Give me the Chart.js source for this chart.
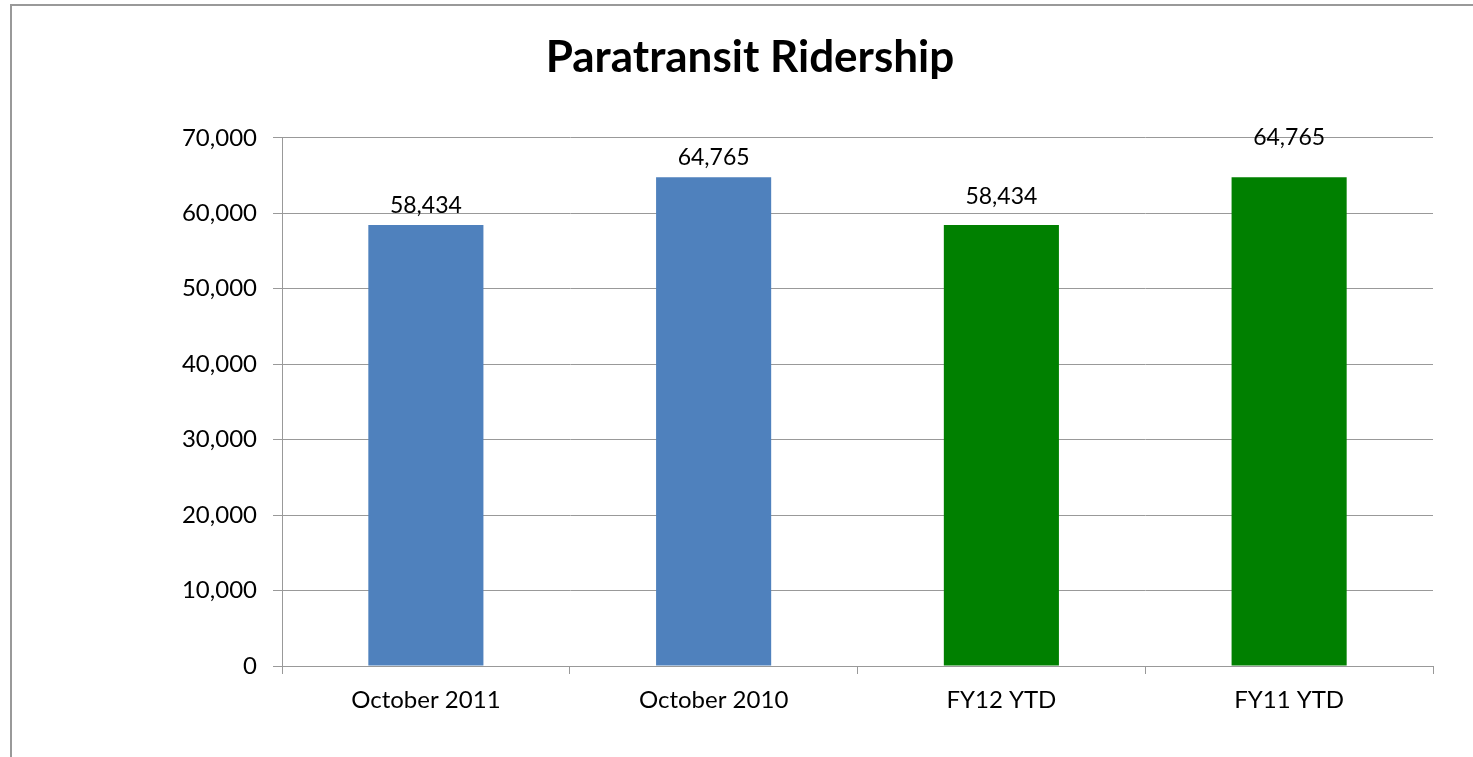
<!DOCTYPE html>
<html>
<head>
<meta charset="utf-8">
<title>Paratransit Ridership</title>
<script src="https://cdn.jsdelivr.net/npm/chart.js@4/dist/chart.umd.min.js"></script>
<style>
  html, body { margin: 0; padding: 0; background: #fff; }
  .wrap { position: relative; width: 1473px; height: 757px; }
  .frame {
    position: absolute; left: 10px; top: 4px; right: -10px; bottom: -10px;
    border-top: 2px solid #999; border-left: 2px solid #999;
    pointer-events: none;
  }
</style>
</head>
<body>
<div class="wrap">
  <canvas id="ridershipChart" width="1473" height="757"></canvas>
  <div class="frame"></div>
</div>
<script>
// Chart data
const categories = ['October 2011', 'October 2010', 'FY12 YTD', 'FY11 YTD'];
const ridership  = [58434, 64765, 58434, 64765];
const barColors  = ['#4F81BD', '#4F81BD', '#008000', '#008000'];
const yTicks     = [0, 10000, 20000, 30000, 40000, 50000, 60000, 70000];

const FONT = 'Lato, "Open Sans", sans-serif';

// ── Value labels above bars ──────────────────────────────────
const barValueLabels = {
  id: 'barValueLabels',
  afterDatasetsDraw(chart, args, opts) {
    const ctx = chart.ctx;
    const meta = chart.getDatasetMeta(0);
    ctx.save();
    ctx.font = `23px ${FONT}`;
    ctx.fillStyle = '#000';
    ctx.textAlign = 'center';
    ctx.textBaseline = 'middle';
    meta.data.forEach((bar, i) => {
      const lift = opts.lift[i] || 20;
      ctx.fillText(ridership[i].toLocaleString('en-US'), bar.x, bar.y - lift);
    });
    ctx.restore();
  }
};

new Chart(document.getElementById('ridershipChart'), {
  type: 'bar',
  data: {
    labels: categories,
    datasets: [{
      data: ridership,
      backgroundColor: barColors,
      borderWidth: 0,
      categoryPercentage: 1,
      barPercentage: 0.4
    }]
  },
  options: {
    responsive: false,
    animation: false,
    layout: { padding: { left: 67, right: 40, top: 0, bottom: 0 } },
    plugins: {
      legend: { display: false },
      tooltip: { enabled: false },
      title: {
        display: true,
        text: 'Paratransit Ridership',
        color: '#000',
        font: { family: FONT, size: 44, weight: 'bold' },
        padding: { top: 31, bottom: 54 }
      },
      barValueLabels: { lift: [19, 20, 28, 40] }
    },
    scales: {
      x: {
        grid: {
          display: true,
          offset: true,
          drawOnChartArea: false,
          drawTicks: true,
          tickLength: 8,
          color: '#999'
        },
        border: { display: true, color: '#999', width: 1 },
        ticks: {
          color: '#000',
          padding: 12,
          font: { family: FONT, size: 24 }
        },
        afterFit(scale) { scale.height = 91; }
      },
      y: {
        min: 0,
        max: 70000,
        afterBuildTicks(scale) { scale.ticks = yTicks.map(v => ({ value: v })); },
        grid: {
          color: '#999',
          lineWidth: 1,
          drawTicks: true,
          tickLength: 9
        },
        border: { display: true, color: '#999', width: 1 },
        ticks: {
          color: '#000',
          padding: 16,
          font: { family: FONT, size: 24 },
          callback: v => Number(v).toLocaleString('en-US')
        },
        afterFit(scale) { scale.width = 215; }
      }
    }
  },
  plugins: [barValueLabels]
});
</script>
</body>
</html>
